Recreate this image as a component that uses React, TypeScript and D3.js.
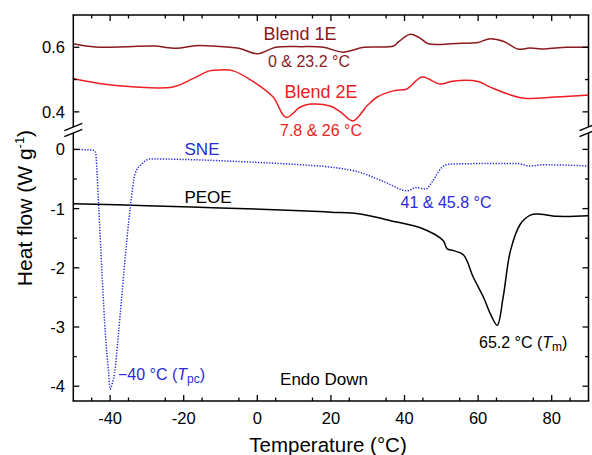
import React from 'react';
import * as d3 from 'd3';

// ---- data (temperature °C, heat flow W/g) ----
const blend1E_T = [-50, -44, -35, -28, -22, -17, -12, -5, 0, 5, 12, 18, 23.2, 29, 37, 38.5, 41.5, 44, 46.5, 54, 60, 63, 67, 71, 74, 78, 84, 90];
const blend1E_V = [0.611, 0.601, 0.602, 0.604, 0.597, 0.605, 0.604, 0.597, 0.58, 0.6, 0.602, 0.6, 0.585, 0.6, 0.604, 0.618, 0.64, 0.63, 0.611, 0.612, 0.615, 0.626, 0.618, 0.594, 0.598, 0.595, 0.6, 0.6];

const blend2E_T = [-50, -43, -34, -23, -17.5, -13, -10, -6.5, -1, 4.3, 7.8, 11.7, 14.5, 19.8, 22.6, 26, 30, 32.6, 37, 40.5, 41.5, 44.8, 49.7, 53, 60, 63, 72, 81, 90];
const blend2E_V = [0.503, 0.488, 0.478, 0.477, 0.503, 0.527, 0.53, 0.527, 0.493, 0.446, 0.383, 0.415, 0.424, 0.418, 0.4, 0.372, 0.421, 0.446, 0.465, 0.47, 0.478, 0.508, 0.486, 0.495, 0.494, 0.478, 0.443, 0.446, 0.452];

const sne_T = [-50, -45, -44, -43.1, -42.2, -41.3, -40.4, -40, -39.4, -38.8, -37.7, -36.3, -34.5, -33.2, -31.3, -29, -20, 0, 12, 20, 27.5, 34.6, 40.8, 43, 45.8, 47.5, 50.2, 52, 60, 70.7, 74.2, 77.7, 90];
const sne_V = [0, -0.01, -0.04, -0.97, -2.1, -3.1, -3.78, -4.05, -3.95, -3.78, -3.1, -2.1, -0.97, -0.41, -0.24, -0.16, -0.17, -0.22, -0.26, -0.3, -0.38, -0.55, -0.7, -0.645, -0.67, -0.55, -0.3, -0.25, -0.24, -0.24, -0.28, -0.26, -0.28];

const peoe_T = [-50, -30, -10, 10, 20, 28, 36, 45, 50.5, 51.6, 53.3, 56, 58.7, 61.4, 63.5, 65.2, 66.8, 68.8, 71.5, 74.2, 76.1, 81.5, 90];
const peoe_V = [-0.92, -0.95, -0.99, -1.03, -1.06, -1.09, -1.2, -1.34, -1.54, -1.68, -1.71, -1.78, -2.16, -2.49, -2.8, -2.97, -2.5, -1.71, -1.26, -1.11, -1.09, -1.13, -1.12];

const xMajor = [-40, -20, 0, 20, 40, 60, 80];
const xMinor = [-45, -35, -25, -15, -5, 5, 15, 25, 35, 45, 55, 65, 75, 85];
const topYMajor = [0.4, 0.6];
const topYMinor = [0.5];
const botYMajor = [0, -1, -2, -3, -4];
const botYMinor = [-0.5, -1.5, -2.5, -3.5];

const FONT = "'Liberation Sans', Arial, sans-serif";

export default function App() {
  const x = d3.scaleLinear().domain([-50, 90]).range([73.3, 588.5]);
  const yTop = d3.scaleLinear().domain([0.35, 0.7]).range([128, 15]);
  const yBot = d3.scaleLinear().domain([-4.25, 0.25]).range([401, 134.6]);

  const L = x.range()[0];
  const R = x.range()[1];
  const T = 15;
  const B = 401;

  const mk = (ts: number[], vs: number[], y: d3.ScaleLinear<number, number>, curve: any) =>
    d3.line<number>().x((_, i) => x(ts[i])).y((v) => y(v)).curve(curve)(vs) || '';

  const smooth = d3.curveCatmullRom.alpha(0.5);
  const p1 = mk(blend1E_T, blend1E_V, yTop, smooth);
  const p2 = mk(blend2E_T, blend2E_V, yTop, smooth);
  const pS = mk(sne_T, sne_V, yBot, d3.curveMonotoneX);
  const pP = mk(peoe_T, peoe_V, yBot, smooth);

  const majLen = 6;
  const minLen = 3.5;
  const sw = 1.5;

  const breakMarks = (cx: number) => (
    <g stroke="#000" strokeWidth={1.4}>
      <line x1={cx - 9} y1={130.7} x2={cx + 9} y2={123.3} />
      <line x1={cx - 9} y1={136.7} x2={cx + 9} y2={129.3} />
    </g>
  );

  return (
    <svg width={592} height={455} style={{ position: 'absolute', left: 0, top: 0, background: '#fff' }} fontFamily={FONT}>
      <rect x={0} y={0} width={592} height={455} fill="#fff" />
      {/* curves */}
      <path d={p1} fill="none" stroke="#8b1a1f" strokeWidth={1.5} />
      <path d={p2} fill="none" stroke="#ee1d24" strokeWidth={1.5} />
      <path d={pP} fill="none" stroke="#000" strokeWidth={1.5} />
      <path d={pS} fill="none" stroke="#2a2ad8" strokeWidth={1.5} strokeDasharray="1.3 1.5" />

      {/* frame */}
      <g stroke="#000" strokeWidth={sw} fill="none">
        <line x1={L - 0.75} y1={T} x2={R + 0.75} y2={T} />
        <line x1={L - 0.75} y1={B} x2={R + 0.75} y2={B} />
        <line x1={L} y1={T} x2={L} y2={127} />
        <line x1={L} y1={133} x2={L} y2={B} />
        <line x1={R} y1={T} x2={R} y2={127} />
        <line x1={R} y1={133} x2={R} y2={B} />
      </g>
      {breakMarks(L)}
      {breakMarks(R)}

      {/* ticks */}
      <g stroke="#000" strokeWidth={1.3}>
        {xMajor.map((t) => (
          <g key={'xm' + t}>
            <line x1={x(t)} x2={x(t)} y1={B} y2={B - majLen} />
            <line x1={x(t)} x2={x(t)} y1={T} y2={T + majLen} />
          </g>
        ))}
        {xMinor.map((t) => (
          <g key={'xn' + t}>
            <line x1={x(t)} x2={x(t)} y1={B} y2={B - minLen} />
            <line x1={x(t)} x2={x(t)} y1={T} y2={T + minLen} />
          </g>
        ))}
        {topYMajor.map((v) => (
          <g key={'tym' + v}>
            <line x1={L} x2={L + majLen} y1={yTop(v)} y2={yTop(v)} />
            <line x1={R} x2={R - majLen} y1={yTop(v)} y2={yTop(v)} />
          </g>
        ))}
        {topYMinor.map((v) => (
          <g key={'tyn' + v}>
            <line x1={L} x2={L + minLen} y1={yTop(v)} y2={yTop(v)} />
            <line x1={R} x2={R - minLen} y1={yTop(v)} y2={yTop(v)} />
          </g>
        ))}
        {botYMajor.map((v) => (
          <g key={'bym' + v}>
            <line x1={L} x2={L + majLen} y1={yBot(v)} y2={yBot(v)} />
            <line x1={R} x2={R - majLen} y1={yBot(v)} y2={yBot(v)} />
          </g>
        ))}
        {botYMinor.map((v) => (
          <g key={'byn' + v}>
            <line x1={L} x2={L + minLen} y1={yBot(v)} y2={yBot(v)} />
            <line x1={R} x2={R - minLen} y1={yBot(v)} y2={yBot(v)} />
          </g>
        ))}
      </g>

      {/* tick labels */}
      <g fontSize={16.5} fill="#000">
        {xMajor.map((t) => (
          <text key={'xl' + t} x={x(t)} y={424} textAnchor="middle">{String(t)}</text>
        ))}
        {topYMajor.map((v) => (
          <text key={'tl' + v} x={65} y={yTop(v) + 6} textAnchor="end">{v.toFixed(1)}</text>
        ))}
        {botYMajor.map((v) => (
          <text key={'bl' + v} x={65} y={yBot(v) + 6} textAnchor="end">{String(v)}</text>
        ))}
      </g>

      {/* axis titles */}
      <text x={328} y={452} textAnchor="middle" fontSize={20.5}>Temperature (°C)</text>
      <text transform="translate(32,208) rotate(-90)" textAnchor="middle" fontSize={21}>
        Heat flow (W g<tspan dy={-8} fontSize={13}>-1</tspan><tspan dy={8}>)</tspan>
      </text>

      {/* annotations */}
      <text x={300} y={40} textAnchor="middle" fontSize={18} fill="#8b1a1f">Blend 1E</text>
      <text x={309} y={67} textAnchor="middle" fontSize={16} fill="#8b1a1f">0 &amp; 23.2 °C</text>
      <text x={321} y={98} textAnchor="middle" fontSize={18} fill="#ee1d24">Blend 2E</text>
      <text x={321} y={136} textAnchor="middle" fontSize={16} fill="#ee1d24">7.8 &amp; 26 °C</text>
      <text x={202} y={155} textAnchor="middle" fontSize={17} fill="#2a2ad8">SNE</text>
      <text x={208} y={203} textAnchor="middle" fontSize={17} fill="#000">PEOE</text>
      <text x={446} y={208} textAnchor="middle" fontSize={16} fill="#2a2ad8">41 &amp; 45.8 °C</text>
      <text x={118} y={380} fontSize={16} fill="#2a2ad8">
        −40 °C (<tspan fontStyle="italic">T</tspan><tspan fontSize={12} dy={3}>pc</tspan><tspan dy={-3}>)</tspan>
      </text>
      <text x={479} y={348} fontSize={16} fill="#000">
        65.2 °C (<tspan fontStyle="italic">T</tspan><tspan fontSize={12} dy={3}>m</tspan><tspan dy={-3}>)</tspan>
      </text>
      <text x={324} y={385} textAnchor="middle" fontSize={17} fill="#000">Endo Down</text>
    </svg>
  );
}
